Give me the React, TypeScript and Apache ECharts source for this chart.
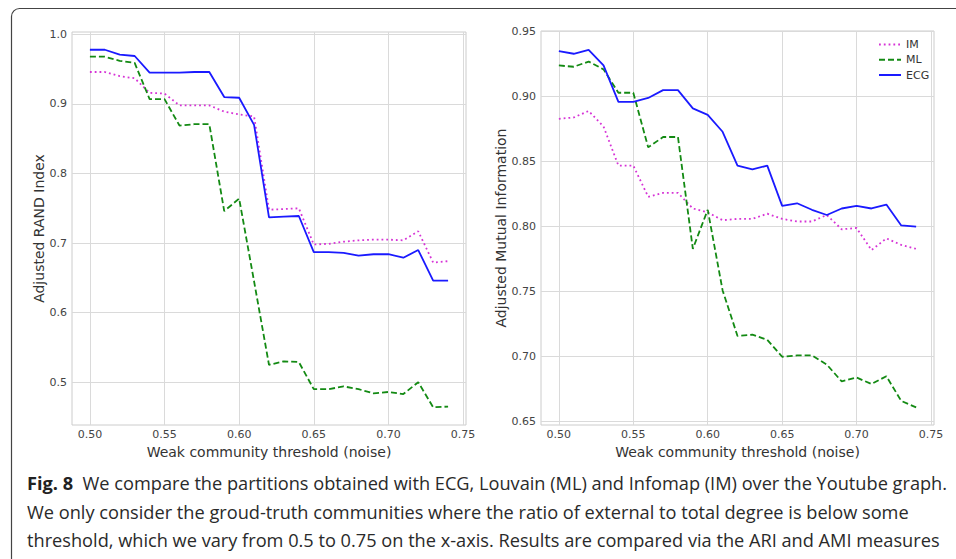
import React, { useEffect, useRef } from "react";
import * as echarts from "echarts";

const thresholds = [0.5, 0.51, 0.52, 0.53, 0.54, 0.55, 0.56, 0.57, 0.58, 0.59, 0.6, 0.61, 0.62, 0.63, 0.64, 0.65, 0.66, 0.67, 0.68, 0.69, 0.7, 0.71, 0.72, 0.73, 0.74];

const ariIM = [0.946, 0.946, 0.94, 0.937, 0.916, 0.915, 0.898, 0.898, 0.898, 0.889, 0.885, 0.882, 0.748, 0.749, 0.75, 0.698, 0.699, 0.702, 0.704, 0.705, 0.705, 0.704, 0.717, 0.672, 0.674];
const ariML = [0.968, 0.968, 0.962, 0.959, 0.907, 0.907, 0.869, 0.871, 0.871, 0.746, 0.764, 0.645, 0.525, 0.53, 0.529, 0.49, 0.49, 0.494, 0.49, 0.484, 0.486, 0.483, 0.5, 0.464, 0.465];
const ariECG = [0.978, 0.978, 0.971, 0.969, 0.945, 0.945, 0.945, 0.946, 0.946, 0.91, 0.909, 0.87, 0.737, 0.738, 0.739, 0.687, 0.687, 0.686, 0.682, 0.684, 0.684, 0.679, 0.69, 0.646, 0.646];

const amiIM = [0.883, 0.884, 0.889, 0.877, 0.847, 0.847, 0.823, 0.826, 0.826, 0.814, 0.811, 0.805, 0.806, 0.806, 0.81, 0.806, 0.804, 0.804, 0.809, 0.798, 0.799, 0.782, 0.791, 0.786, 0.783];
const amiML = [0.924, 0.923, 0.927, 0.921, 0.903, 0.903, 0.861, 0.869, 0.869, 0.783, 0.813, 0.751, 0.716, 0.717, 0.713, 0.7, 0.701, 0.701, 0.694, 0.681, 0.684, 0.679, 0.685, 0.666, 0.661];
const amiECG = [0.935, 0.933, 0.936, 0.924, 0.896, 0.896, 0.899, 0.905, 0.905, 0.891, 0.886, 0.873, 0.847, 0.844, 0.847, 0.816, 0.818, 0.813, 0.809, 0.814, 0.816, 0.814, 0.817, 0.801, 0.8];

const xTicks = [0.5, 0.55, 0.6, 0.65, 0.7, 0.75];
const ariTicks = [0.5, 0.6, 0.7, 0.8, 0.9, 1.0];
const amiTicks = [0.65, 0.7, 0.75, 0.8, 0.85, 0.9, 0.95];

const xLimits: [number, number] = [0.488, 0.752];
const ariLimits: [number, number] = [0.4385, 1.0035];
const amiLimits: [number, number] = [0.6475, 0.9505];

const seriesNames = ["IM", "ML", "ECG"];
const xTitle = "Weak community threshold (noise)";
const leftTitle = "Adjusted RAND Index";
const rightTitle = "Adjusted Mutual Information";

const captionBold = "Fig. 8";
const captionLine1 = "  We compare the partitions obtained with ECG, Louvain (ML) and Infomap (IM) over the Youtube graph.";
const captionLine2 = "We only consider the groud-truth communities where the ratio of external to total degree is below some";
const captionLine3 = "threshold, which we vary from 0.5 to 0.75 on the x-axis. Results are compared via the ARI and AMI measures";

const FONT = "DejaVu Sans";
const CAPTION_FONT = "Open Sans";
const CAPTION_SIZE = 18.2;

export default function App() {
  const ref = useRef<HTMLDivElement>(null);
  useEffect(() => {
    document.body.style.margin = "0";
    if (!ref.current) return;
    const chart = echarts.init(ref.current, undefined, { renderer: "svg" });

    const styles = [
      { color: "#d633d6", type: [1.8, 3] as any, width: 1.8 },
      { color: "#138a13", type: [6, 3] as any, width: 1.8 },
      { color: "#1a1aff", type: "solid" as any, width: 1.8 },
    ];

    const mkSeries = (vals: number[], idx: number, axis: number) => ({
      type: "line",
      name: seriesNames[idx],
      xAxisIndex: axis,
      yAxisIndex: axis,
      showSymbol: false,
      symbol: "none",
      data: thresholds.map((x, i) => [x, vals[i]]),
      lineStyle: { color: styles[idx].color, type: styles[idx].type, width: styles[idx].width },
      itemStyle: { color: styles[idx].color },
      z: 3 + idx,
    });

    const xAxisBase = (gridIndex: number) => ({
      type: "value",
      gridIndex,
      min: xLimits[0],
      max: xLimits[1],
      name: xTitle,
      nameLocation: "middle",
      nameGap: 15,
      nameTextStyle: { fontFamily: FONT, fontSize: 14, color: "#333" },
      axisLine: { show: false },
      axisTick: { show: false, customValues: xTicks },
      axisLabel: {
        customValues: xTicks,
        formatter: (v: number) => v.toFixed(2),
        fontFamily: FONT,
        fontSize: 11,
        color: "#444",
        margin: 4,
      },
      splitLine: { show: true, lineStyle: { color: "#dadada", width: 1 } },
    });

    const yAxisBase = (gridIndex: number, ext: [number, number], ticks: number[], dec: number, title: string, gap: number) => ({
      type: "value",
      gridIndex,
      min: ext[0],
      max: ext[1],
      name: title,
      nameLocation: "middle",
      nameGap: gap,
      nameTextStyle: { fontFamily: FONT, fontSize: 14, color: "#333" },
      axisLine: { show: false },
      axisTick: { show: false, customValues: ticks },
      axisLabel: {
        customValues: ticks,
        formatter: (v: number) => v.toFixed(dec),
        fontFamily: FONT,
        fontSize: 11,
        color: "#444",
        margin: 5,
      },
      splitLine: { show: true, lineStyle: { color: "#dadada", width: 1 } },
    });

    chart.setOption({
      animation: false,
      backgroundColor: "#ffffff",
      grid: [
        { left: 72, top: 32, width: 394, height: 393, show: true, borderColor: "#cccccc", borderWidth: 1, backgroundColor: "transparent" },
        { left: 541, top: 31, width: 393, height: 394, show: true, borderColor: "#cccccc", borderWidth: 1, backgroundColor: "transparent" },
      ],
      xAxis: [xAxisBase(0), xAxisBase(1)],
      yAxis: [
        yAxisBase(0, ariLimits, ariTicks, 1, leftTitle, 24),
        yAxisBase(1, amiLimits, amiTicks, 2, rightTitle, 32),
      ],
      legend: {
        orient: "vertical",
        left: 873,
        top: 34,
        itemWidth: 22,
        itemHeight: 14,
        itemGap: 4,
        data: seriesNames,
        itemStyle: { opacity: 0 },
        textStyle: { fontFamily: FONT, fontSize: 11, color: "#333" },
      },
      series: [
        mkSeries(ariIM, 0, 0),
        mkSeries(ariML, 1, 0),
        mkSeries(ariECG, 2, 0),
        mkSeries(amiIM, 0, 1),
        mkSeries(amiML, 1, 1),
        mkSeries(amiECG, 2, 1),
      ],
      graphic: [
        {
          type: "rect",
          shape: { x: 11.5, y: 8.5, width: 1000, height: 700, r: 8 },
          style: { fill: "none", stroke: "#444", lineWidth: 1.2 },
          silent: true,
        },
        {
          type: "text",
          x: 27,
          y: 483,
          style: {
            text: "{b|" + captionBold + "}" + captionLine1,
            fontFamily: CAPTION_FONT,
            fontSize: CAPTION_SIZE,
            fill: "#2a2a2a",
            verticalAlign: "middle",
            rich: { b: { fontFamily: CAPTION_FONT, fontSize: CAPTION_SIZE, fontWeight: "bold", fill: "#222" } },
          },
        },
        {
          type: "text",
          x: 27,
          y: 511.5,
          style: { text: captionLine2, fontFamily: CAPTION_FONT, fontSize: CAPTION_SIZE, fill: "#2a2a2a", verticalAlign: "middle" },
        },
        {
          type: "text",
          x: 27,
          y: 540,
          style: { text: captionLine3, fontFamily: CAPTION_FONT, fontSize: CAPTION_SIZE, fill: "#2a2a2a", verticalAlign: "middle" },
        },
      ],
    });
    return () => chart.dispose();
  }, []);
  return <div ref={ref} style={{ width: 956, height: 559 }} />;
}
